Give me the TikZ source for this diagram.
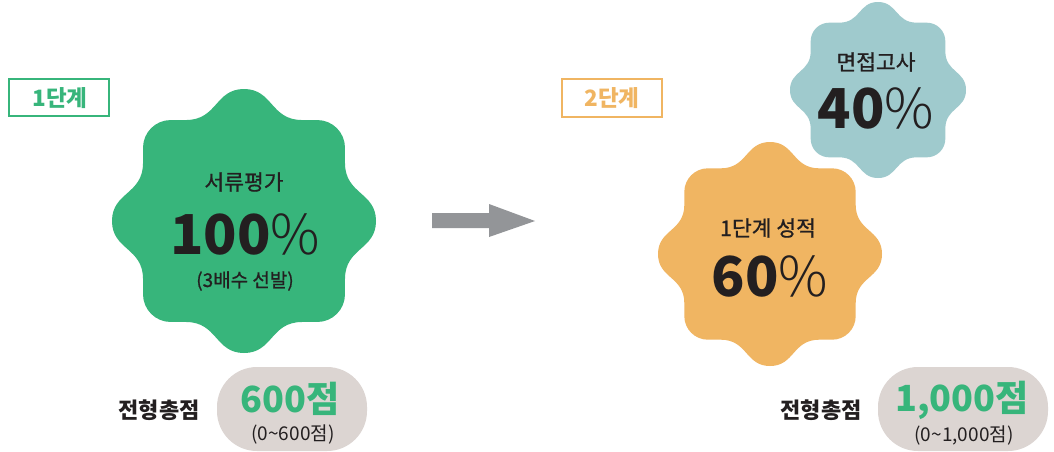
\documentclass[tikz,border=0pt]{standalone}
\usepackage{fontspec}
\setmainfont{Noto Sans CJK KR}
\IfFontExistsTF{Noto Sans CJK KR Light}{\newfontfamily\krlight{Noto Sans CJK KR Light}}{\newfontfamily\krlight{Noto Sans CJK KR}}
\newfontfamily\krmed{Noto Sans CJK KR}[FakeBold=0.8]
\definecolor{cgreen}{HTML}{37B57B}
\definecolor{corange}{HTML}{F0B562}
\definecolor{cteal}{HTML}{9FCACD}
\definecolor{cpill}{HTML}{DCD5D2}
\definecolor{cdark}{HTML}{231F20}
\definecolor{carrow}{HTML}{939598}
\def\ba{0.765}\def\bb{0.44}\def\bc{0.21}\def\bp{0.22}\def\bq{0.24}
\newcommand\blobfill[4]{%
  \fill[#4, shift={(#1,#2)}, scale=#3]
  (0,-1) .. controls (\bp,-1) and (\bb-\bq,-\ba) .. (\bb,-\ba)
  -- (\ba-\bc,-\ba)
  .. controls (\ba-0.448*\bc,-\ba) and (\ba,-\ba+0.448*\bc) .. (\ba,-\ba+\bc)
  -- (\ba,-\bb)
  .. controls (\ba,-\bb+\bq) and (1,-\bp) .. (1,0)
  .. controls (1,\bp) and (\ba,\bb-\bq) .. (\ba,\bb)
  -- (\ba,\ba-\bc)
  .. controls (\ba,\ba-0.448*\bc) and (\ba-0.448*\bc,\ba) .. (\ba-\bc,\ba)
  -- (\bb,\ba)
  .. controls (\bb-\bq,\ba) and (\bp,1) .. (0,1)
  .. controls (-\bp,1) and (-\bb+\bq,\ba) .. (-\bb,\ba)
  -- (-\ba+\bc,\ba)
  .. controls (-\ba+0.448*\bc,\ba) and (-\ba,\ba-0.448*\bc) .. (-\ba,\ba-\bc)
  -- (-\ba,\bb)
  .. controls (-\ba,\bb-\bq) and (-1,\bp) .. (-1,0)
  .. controls (-1,-\bp) and (-\ba,-\bb+\bq) .. (-\ba,-\bb)
  -- (-\ba,-\ba+\bc)
  .. controls (-\ba,-\ba+0.448*\bc) and (-\ba+0.448*\bc,-\ba) .. (-\ba+\bc,-\ba)
  -- (-\bb,-\ba)
  .. controls (-\bb+\bq,-\ba) and (-\bp,-1) .. (0,-1) -- cycle;
}
\tikzset{
  txt/.style={inner sep=0pt, text=cdark},
  lbl/.style={txt, font=\krmed\fontsize{21.5}{21.5}\selectfont},
  pct/.style={txt, font=\bfseries\fontsize{55}{55}\selectfont},
  sub/.style={txt, font=\krmed\fontsize{19}{19}\selectfont},
  stagebox/.style={draw, line width=1.5pt, fill=white},
  stagetxt/.style={inner sep=0pt, font=\bfseries\fontsize{22.5}{22.5}\selectfont},
  pill/.style={fill=cpill, rounded corners=40pt},
  total/.style={txt, font=\bfseries\fontsize{22}{22}\selectfont},
  score/.style={inner sep=0pt, text=cgreen, font=\bfseries\fontsize{36}{36}\selectfont},
  rangetxt/.style={txt, font=\fontsize{19}{19}\selectfont},
}
\newcommand\pc{{\krlight\mdseries\%}}
\begin{document}
\begin{tikzpicture}[x=1pt, y=-1pt]
\useasboundingbox (0,0) rectangle (1054,451);
\fill[white] (0,0) rectangle (1054,451);

% stage labels
\draw[stagebox, draw=cgreen] (9,79) rectangle (109,116);
\node[stagetxt, text=cgreen] (s1) at (60,98) {1단계};
\draw[stagebox, draw=corange] (562,79) rectangle (662,117);
\node[stagetxt, text=corange] (s2) at (612,98) {2단계};

% blobs
\blobfill{244}{221}{132}{cgreen}
\blobfill{770}{254}{112}{corange}
\blobfill{878}{90}{88}{cteal}

% green blob texts
\node[lbl] (g1) at (244,182) {서류평가};
\node[pct] (g2) at (245,234) {100\pc};
\node[sub] (g3) at (245,281) {(3배수 선발)};

% teal blob texts
\node[lbl] (t1) at (876,62) {면접고사};
\node[pct] (t2) at (876,108) {40\pc};

% orange blob texts
\node[lbl] (o1) at (768,228) {1단계 성적};
\node[pct] (o2) at (770,276) {60\pc};

% arrow
\fill[carrow] (432,213) -- (489,213) -- (489,204) -- (535,221) -- (489,237) -- (489,228) -- (432,228) -- cycle;

% totals
\fill[pill] (217,367) rectangle (367,451);
\node[total] (l1) at (159,410) {전형총점};
\node[score] (l2) at (290,399) {600점};
\node[rangetxt] (l3) at (293,434) {(0\textasciitilde 600점)};

\fill[pill] (878,367) rectangle (1048,451);
\node[total] (r1) at (821,410) {전형총점};
\node[score] (r2) at (962,400) {1,000점};
\node[rangetxt] (r3) at (964,435) {(0\textasciitilde 1,000점)};
\end{tikzpicture}
\end{document}
